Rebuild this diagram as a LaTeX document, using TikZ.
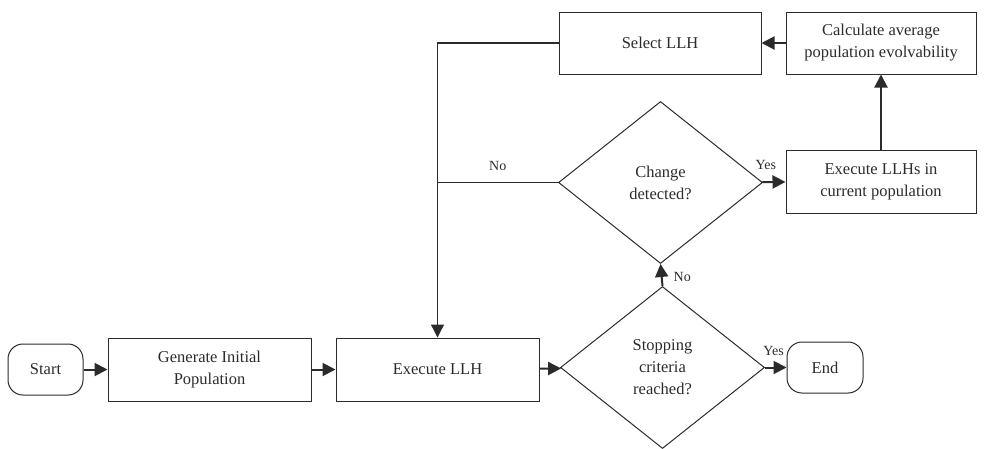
\documentclass[tikz,border=0pt]{standalone}
\usepackage{fontspec}
\setmainfont{Liberation Serif}
\usepackage{tikz}
\usetikzlibrary{shapes.geometric, arrows.meta, positioning}
\tikzset{>={Triangle[length=13pt,width=13pt]}}
\definecolor{ink}{HTML}{2B2B2B}

\begin{document}
\begin{tikzpicture}[x=1pt, y=-1pt, color=ink, font=\fontsize{16.5}{22}\selectfont,
		box/.style={draw, line width=1pt, align=center, inner sep=0pt, minimum width=203pt, minimum height=63pt},
		term/.style={draw, line width=1pt, rounded corners=15pt, inner sep=0pt, minimum width=75pt, minimum height=51pt},
		decide/.style={diamond, draw, line width=1pt, aspect=1.26, align=center, inner sep=0pt, minimum width=204pt, minimum height=162pt},
		flow/.style={->, line width=2pt},
		back/.style={line width=1.3pt},
		lab/.style={font=\fontsize{14}{16}\selectfont, inner sep=1pt}]
			\useasboundingbox (0,0) rectangle (985,448);
			% main line of the run
			\node[term] (start) at (45.5,369.5) {Start};
			\node[box] (gen) at (209.5,369.5) {Generate Initial\\Population};
			\node[box] (exe) at (437.5,369.5) {Execute LLH};
			\node[decide] (stop) at (662.5,367.5) {Stopping\\criteria\\reached?};
			\node[term, minimum width=76pt] (fin) at (825,367.5) {End};
			% change handling
			\node[decide] (chg) at (660.5,182.5) {Change\\detected?};
			\node[box, minimum width=190pt] (exes) at (881,181.5) {Execute LLHs in\\current population};
			\node[box, minimum width=190pt, minimum height=62pt] (calc) at (881,43) {Calculate average\\population evolvability};
			\node[box, minimum width=202pt, minimum height=62pt] (sel) at (660,43) {Select LLH};
			\coordinate (merge) at (exe.north |- chg.west);
			\draw[flow] (start) -- (gen);
			\draw[flow] (gen) -- (exe);
			\draw[flow] (exe) -- (stop);
			\draw[flow] (stop) -- node[lab, above=10pt, pos=0.4]{Yes} (fin);
			\draw[flow] (stop.north) -- node[lab, right=10pt, pos=0.4]{No} (chg.south);
			\draw[flow] (chg) -- node[lab, above=10pt, pos=0.15]{Yes} (exes);
			\draw[flow] (exes) -- (calc);
			\draw[flow] (calc) -- (sel);
			\draw[back] (chg.west) -- node[lab, above=10pt]{No} (merge);
			\draw[back, ->] (sel.west) -| (exe.north);
		\end{tikzpicture}
\end{document}
